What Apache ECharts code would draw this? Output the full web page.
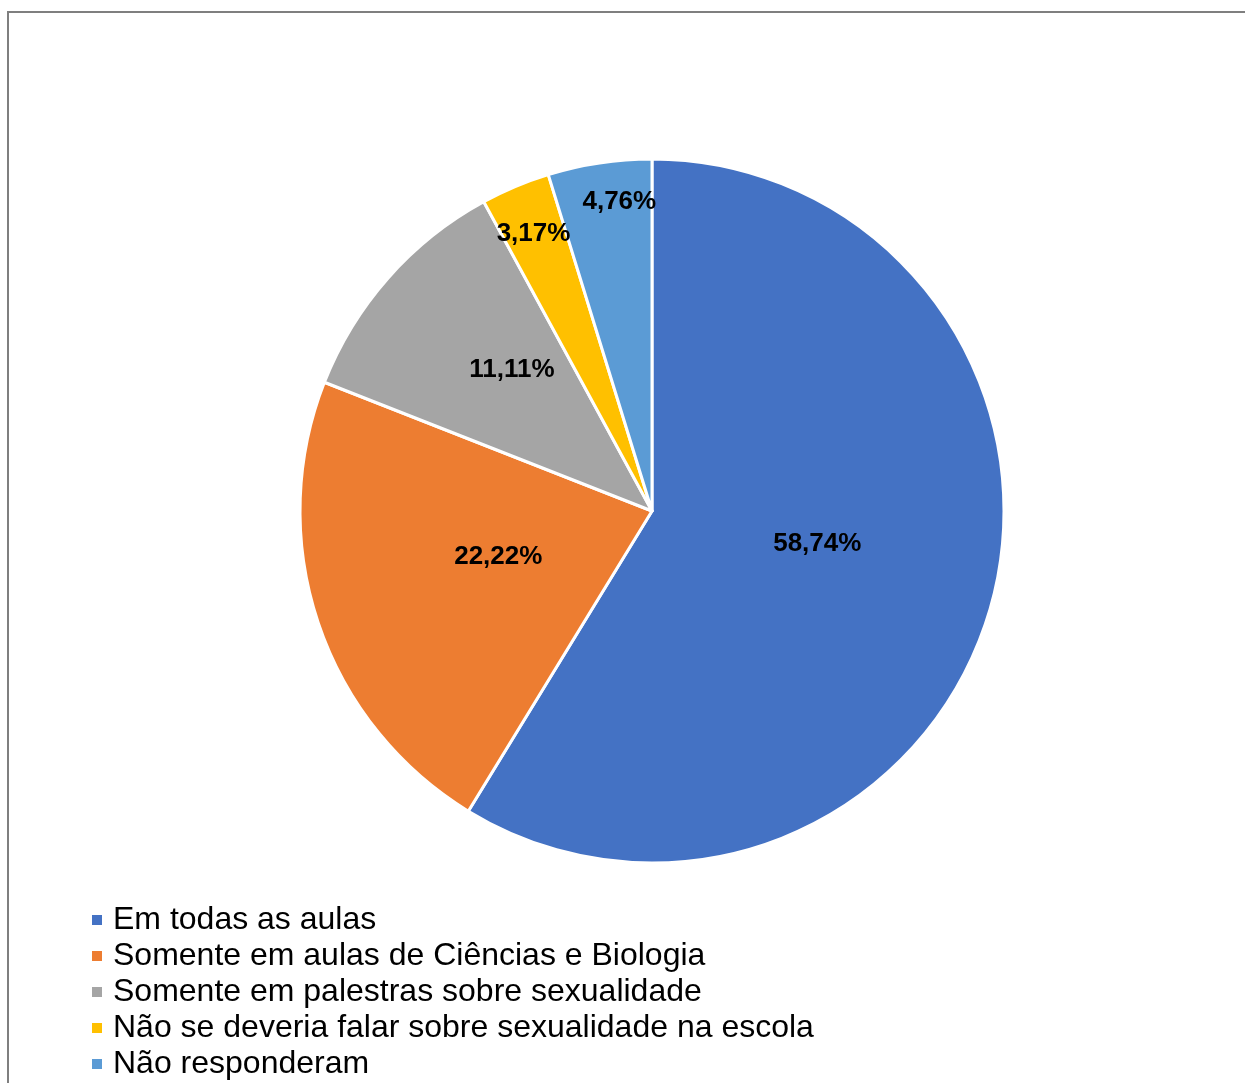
<!DOCTYPE html>
<html>
<head>
<meta charset="utf-8">
<script src="https://cdn.jsdelivr.net/npm/echarts@6/dist/echarts.min.js"></script>
<style>
  html, body { margin: 0; padding: 0; background: #ffffff; }
  #chart { width: 1245px; height: 1083px; }
</style>
</head>
<body>
<div id="chart"></div>
<script>
// Categories and percentages
const categories = [
  'Em todas as aulas',
  'Somente em aulas de Ciências e Biologia',
  'Somente em palestras sobre sexualidade',
  'Não se deveria falar sobre sexualidade na escola',
  'Não responderam'
];
const values = [58.74, 22.22, 11.11, 3.17, 4.76];
const colors = ['#4472C4', '#ED7D31', '#A5A5A5', '#FFC000', '#5B9BD5'];
// Nudges for the in-slice labels (best-fit placement)
const labelOffsets = [[-7, -16], [16, -11], [-6, -23], [-49, -112], [-6, -132]];

const chart = echarts.init(document.getElementById('chart'), null, { renderer: 'canvas' });

const data = categories.map((name, i) => ({
  name: name,
  value: values[i],
  itemStyle: { color: colors[i] },
  label: { offset: labelOffsets[i] }
}));

chart.setOption({
  animation: false,
  backgroundColor: '#ffffff',
  graphic: [{
    type: 'rect',
    shape: { x: 8, y: 12, width: 1400, height: 1200 },
    style: { fill: 'none', stroke: '#7f7f7f', lineWidth: 2 },
    z: 0
  }],
  legend: {
    orient: 'vertical',
    left: 85,
    top: 897,
    height: 400,
    itemWidth: 12,
    itemHeight: 12,
    itemGap: 0,
    icon: 'rect',
    textStyle: {
      fontFamily: 'Liberation Sans, Arial, sans-serif',
      fontSize: 32,
      lineHeight: 36,
      color: '#000000',
      padding: [0, 0, 0, 5]
    },
    data: categories
  },
  series: [{
    type: 'pie',
    center: [652, 511],
    radius: [0, 352],
    startAngle: 90,
    clockwise: true,
    avoidLabelOverlap: false,
    itemStyle: { borderColor: '#ffffff', borderWidth: 3 },
    label: {
      show: true,
      position: 'inside',
      formatter: p => p.value.toFixed(2).replace('.', ',') + '%',
      fontFamily: 'Liberation Sans, Arial, sans-serif',
      fontWeight: 'bold',
      fontSize: 26,
      color: '#000000'
    },
    labelLine: { show: false },
    emphasis: { disabled: true },
    data: data
  }]
});
</script>
</body>
</html>
